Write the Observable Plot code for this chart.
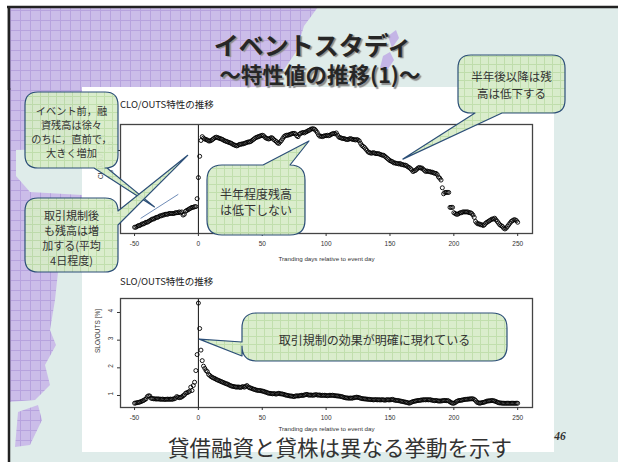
<!DOCTYPE html>
<html>
<head>
<meta charset="utf-8">
<script src="https://cdn.jsdelivr.net/npm/d3@7"></script>
<script src="https://cdn.jsdelivr.net/npm/@observablehq/plot@0.6"></script>
<style>
  body { margin: 0; background: #fff; }
  #slide { position: relative; width: 618px; height: 462px; overflow: hidden; font-family: "Noto Sans CJK JP", sans-serif; background: #fff; }
  .layer { position: absolute; left: 0; top: 0; }
  .chart { position: absolute; }
  .ctitle { position: absolute; font-size: 9.5px; color: #222; white-space: nowrap; line-height: 1; }
  .centered { position: absolute; white-space: nowrap; line-height: 1; transform: translate(-50%, -50%); }
  .title { font-weight: bold; color: #262626; text-shadow: 1.7px 1.7px 1px #8a8a8a; }
  .message { color: #333; }
  .page { font-family: "Liberation Serif", serif; font-weight: bold; font-style: italic; color: #333; }
</style>
</head>
<body>
<div id="slide"></div>
<script>
// ---- data: event study, trading days relative to the event day ----
const firstDay = -50;

// CLO/OUTS (%), one value per trading day from -50 to 250
const cloValues = [
  1.83,1.83,1.84,1.85,1.85,1.86,1.87,1.87,1.88,1.89,
  1.89,1.90,1.91,1.92,1.93,1.93,1.94,1.95,1.95,1.96,
  1.97,1.97,1.98,1.98,1.99,1.99,1.99,2.00,2.00,2.00,
  2.00,2.00,2.01,2.01,2.01,2.02,2.01,2.02,1.98,1.99,
  2.03,2.04,2.05,2.06,2.07,2.08,2.08,2.09,2.09,2.20,
  2.52,2.89,3.20,3.28,3.25,3.23,3.22,3.21,3.19,3.19,
  3.20,3.22,3.24,3.26,3.27,3.26,3.25,3.24,3.23,3.22,
  3.20,3.19,3.18,3.17,3.16,3.15,3.14,3.12,3.11,3.10,
  3.09,3.10,3.12,3.12,3.13,3.13,3.14,3.15,3.16,3.17,
  3.17,3.18,3.20,3.22,3.24,3.26,3.27,3.28,3.29,3.30,
  3.31,3.30,3.27,3.25,3.24,3.23,3.24,3.26,3.25,3.22,
  3.20,3.18,3.15,3.14,3.17,3.20,3.24,3.28,3.30,3.31,
  3.31,3.32,3.33,3.34,3.35,3.35,3.34,3.30,3.28,3.33,
  3.35,3.36,3.37,3.36,3.38,3.39,3.41,3.42,3.44,3.45,
  3.45,3.44,3.41,3.37,3.32,3.29,3.29,3.28,3.29,3.30,
  3.30,3.31,3.30,3.31,3.33,3.34,3.35,3.34,3.36,3.31,
  3.27,3.26,3.25,3.24,3.24,3.23,3.22,3.22,3.23,3.24,
  3.23,3.22,3.22,3.21,3.22,3.21,3.19,3.14,3.10,3.08,
  3.06,3.03,3.00,2.97,2.96,2.95,2.95,2.96,2.95,2.94,
  2.94,2.94,2.93,2.92,2.91,2.91,2.89,2.87,2.85,2.83,
  2.81,2.80,2.79,2.77,2.77,2.76,2.76,2.75,2.76,2.74,
  2.74,2.73,2.73,2.72,2.70,2.69,2.67,2.65,2.62,2.63,
  2.64,2.66,2.68,2.69,2.68,2.68,2.66,2.64,2.62,2.63,
  2.62,2.62,2.61,2.61,2.60,2.59,2.59,2.57,2.53,2.51,
  2.48,2.36,2.27,2.29,2.29,2.29,2.29,2.08,2.08,2.08,
  2.01,2.00,1.99,1.99,2.00,2.01,2.01,2.02,2.02,2.02,
  2.02,2.02,2.01,2.01,2.00,1.98,1.95,1.90,1.88,1.87,
  1.87,1.86,1.86,1.85,1.86,1.88,1.89,1.90,1.91,1.92,
  1.93,1.93,1.94,1.92,1.90,1.88,1.86,1.85,1.84,1.82,
  1.81,1.82,1.84,1.86,1.88,1.90,1.91,1.92,1.92,1.91,1.89
];

// SLO/OUTS (%), one value per trading day from -50 to 250
const sloValues = [
  0.72,0.73,0.74,0.75,0.76,0.78,0.80,0.82,0.85,0.88,
  0.96,0.99,0.98,0.90,0.89,0.88,0.88,0.87,0.88,0.87,
  0.87,0.86,0.87,0.86,0.86,0.86,0.87,0.86,0.87,0.86,
  0.87,0.88,0.90,0.96,0.94,0.92,0.93,0.95,0.99,1.02,
  1.08,1.10,1.12,1.15,1.30,1.18,1.36,1.48,1.90,2.48,
  4.34,3.42,2.64,2.26,2.06,1.98,1.90,1.86,1.76,1.72,
  1.68,1.65,1.63,1.61,1.58,1.56,1.54,1.52,1.50,1.48,
  1.46,1.44,1.42,1.41,1.38,1.36,1.34,1.33,1.32,1.31,
  1.30,1.31,1.30,1.29,1.31,1.32,1.30,1.33,1.36,1.31,
  1.28,1.27,1.25,1.23,1.22,1.20,1.19,1.18,1.18,1.17,
  1.16,1.15,1.13,1.12,1.10,1.08,1.08,1.07,1.06,1.07,
  1.06,1.05,1.07,1.08,1.06,1.06,1.05,1.04,1.02,1.01,
  1.00,0.99,0.98,0.98,0.97,0.96,0.98,0.99,0.98,0.99,
  1.00,1.01,1.00,1.02,1.03,1.04,1.02,1.01,1.02,1.01,
  1.01,1.02,1.03,1.02,1.01,1.02,1.00,1.01,1.00,1.01,
  1.00,0.99,1.00,1.01,1.00,1.01,1.00,0.99,0.99,0.98,
  0.98,0.97,0.96,0.95,0.93,0.92,0.91,0.91,0.90,0.91,
  0.90,0.91,0.92,0.93,0.94,0.93,0.92,0.90,0.89,0.88,
  0.88,0.87,0.87,0.86,0.86,0.85,0.85,0.84,0.85,0.85,
  0.84,0.85,0.84,0.84,0.85,0.84,0.83,0.84,0.85,0.84,
  0.84,0.85,0.86,0.84,0.83,0.82,0.82,0.81,0.80,0.79,
  0.78,0.77,0.76,0.75,0.74,0.72,0.74,0.76,0.78,0.79,
  0.80,0.81,0.82,0.82,0.83,0.84,0.84,0.85,0.84,0.85,
  0.84,0.85,0.84,0.83,0.82,0.81,0.82,0.81,0.80,0.80,
  0.80,0.81,0.82,0.82,0.81,0.82,0.80,0.77,0.74,0.72,
  0.72,0.74,0.78,0.80,0.82,0.82,0.83,0.84,0.85,0.86,
  0.86,0.87,0.87,0.88,0.88,0.88,0.86,0.82,0.76,0.74,
  0.72,0.73,0.74,0.75,0.76,0.78,0.80,0.80,0.81,0.81,
  0.82,0.81,0.80,0.78,0.76,0.74,0.73,0.73,0.72,0.72,
  0.72,0.72,0.72,0.72,0.72,0.72,0.72,0.72,0.72,0.72,0.72
];

// axis ticks
const dayTicks = [-50, 0, 50, 100, 150, 200, 250];
const cloTicks = [2.0, 2.5, 3.0];
const sloTicks = [1, 2, 3, 4];

// thin guide line drawn in the upper panel (day, CLO/OUTS)
const guideDays = [-45, -16];
const guideValues = [1.94, 2.26];

// callout anchor points in data space (day, value)
const tipPreEvent = [-34, 2.08];
const tipAfterRule = [-8, 2.90];
const tipHalfYear = [87, 3.18];
const tipLater = [160.5, 2.83];
const tipSlo = [1, 3.02];

// texts
const slideTitle = "イベントスタディ";
const slideSubtitle = "～特性値の推移(1)～";
const cloTitle = "CLO/OUTS特性の推移";
const sloTitle = "SLO/OUTS特性の推移";
const xLabel = "Tranding days relative to event day";
const bottomMessage = "貸借融資と貸株は異なる挙動を示す";
const pageNumber = "46";

// ---- build records ----
const cloData = cloValues.map((v, i) => ({day: firstDay + i, v}));
const sloData = sloValues.map((v, i) => ({day: firstDay + i, v}));
const guideData = guideDays.map((d, i) => ({day: d, v: guideValues[i]}));

const slide = document.getElementById("slide");
const W = 618, H = 462;
function addLayer(html) { slide.insertAdjacentHTML("beforeend", html); }

const purpleGrid = (id) => `
    <pattern id="${id}" width="10" height="10" patternUnits="userSpaceOnUse">
      <rect width="10" height="10" fill="#cbbde9"/>
      <rect width="10" height="1" fill="#b7a3de"/>
      <rect width="1" height="10" fill="#b7a3de"/>
    </pattern>`;

// ---- slide background: pale sea, gridded purple land, white content panel ----
addLayer(`<svg class="layer" width="${W}" height="${H}" xmlns="http://www.w3.org/2000/svg">
  <defs>${purpleGrid("pgrid")}</defs>
  <rect x="8" y="7" width="${W - 8}" height="${H - 7}" fill="#dfecea"/>
  <rect x="8" y="80" width="74" height="192" fill="url(#pgrid)"/>
  <polygon points="8,272 58,272 55,300 50,330 56,345 45,365 50,385 35,400 8,402" fill="url(#pgrid)"/>
  <polygon points="16,150 82,148 82,195 30,192 16,176" fill="#dfecea"/>
  <polygon points="18,412 38,405 42,420 30,445 15,447" fill="url(#pgrid)"/>
  <polygon points="388,36 396,30 399,38 392,48" fill="#c4b5e6"/>
  <polygon points="383,56 390,52 394,60 386,72 380,68" fill="#c4b5e6"/>
  <line x1="9" y1="7" x2="9" y2="${H}" stroke="#222" stroke-width="2.5"/>
  <rect x="82" y="87" width="472" height="365" fill="#ffffff"/>
</svg>`);

// ---- chart titles ----
function addDiv(cls, text, left, top, size) {
  const d = document.createElement("div");
  d.className = cls;
  d.textContent = text;
  d.style.left = left + "px";
  d.style.top = top + "px";
  if (size) d.style.fontSize = size + "px";
  slide.appendChild(d);
  return d;
}
addDiv("ctitle", cloTitle, 120, 100);
addDiv("ctitle", sloTitle, 120, 277);

// ---- plots ----
const xDomain = [-61, 261.6];
const baseStyle = {background: "transparent", fontFamily: "'Liberation Sans', Arial, sans-serif", fontSize: "6.5px", color: "#333", overflow: "visible"};

function panel({data, yType, yDomain, yTicks, yFormat, yLabel, labelDx, labelDy, extra, height, marginTop}) {
  return Plot.plot({
    width: 472,
    height,
    marginLeft: 38,
    marginRight: 22,
    marginTop,
    marginBottom: 32,
    style: baseStyle,
    x: {domain: xDomain},
    y: {type: yType, domain: yDomain},
    marks: [
      Plot.ruleX([0], {stroke: "#111", strokeWidth: 1}),
      ...extra,
      Plot.dot(data, {x: "day", y: "v", r: 2, stroke: "#000", strokeWidth: 0.9, fill: "none"}),
      Plot.frame({stroke: "#444", strokeWidth: 1.3}),
      Plot.axisX({ticks: dayTicks, tickSize: 3, tickPadding: 5, tickFormat: d => String(d), label: null, fontSize: 6.5}),
      Plot.axisY({ticks: yTicks, tickSize: 3, tickFormat: () => "", label: null}),
      Plot.text(yTicks, {y: d => d, text: d => yFormat(d), frameAnchor: "left", dx: -10, rotate: -90, fontSize: 6.5, fill: "#333"}),
      Plot.text([yLabel], {text: d => d, frameAnchor: "left", dx: labelDx, rotate: -90, fontSize: 6.5, fill: "#333"}),
      Plot.text([xLabel], {text: d => d, frameAnchor: "bottom", dy: labelDy, fontSize: 6.2, fill: "#333"})
    ]
  });
}

const cloPlot = panel({
  data: cloData, yType: "log", yDomain: [1.758, 3.547], yTicks: cloTicks,
  yFormat: d => d.toFixed(1), yLabel: "CLO/OUTS [%]", labelDx: -20, labelDy: 27,
  extra: [Plot.line(guideData, {x: "day", y: "v", stroke: "#4a6fa5", strokeWidth: 0.8})],
  height: 153, marginTop: 12
});
const sloPlot = panel({
  data: sloData, yType: "linear", yDomain: [0.566, 4.506], yTicks: sloTicks,
  yFormat: d => String(d), yLabel: "SLO/OUTS [%]", labelDx: -23, labelDy: 23,
  extra: [],
  height: 152, marginTop: 11
});

const cloPos = {left: 82, top: 112};
const sloPos = {left: 82, top: 287};
[[cloPlot, cloPos], [sloPlot, sloPos]].forEach(([p, pos]) => {
  p.classList.add("chart");
  p.style.left = pos.left + "px";
  p.style.top = pos.top + "px";
  slide.appendChild(p);
});

// convert a data point of a panel into slide pixels
function toSlide(plot, pos, [day, v]) {
  return [pos.left + plot.scale("x").apply(day), pos.top + plot.scale("y").apply(v)];
}

// ---- callouts ----
function calloutPath(b, t) {
  const {x, y, w, h, r} = b;
  const x2 = x + w, y2 = y + h;
  const tip = `${t.tip[0].toFixed(1)},${t.tip[1].toFixed(1)}`;
  let p = `M${x + r},${y}`;
  if (t.side === "top") p += `L${t.a},${y}L${tip}L${t.c},${y}`;
  p += `L${x2 - r},${y}Q${x2},${y} ${x2},${y + r}`;
  if (t.side === "right") p += `L${x2},${t.a}L${tip}L${x2},${t.c}`;
  p += `L${x2},${y2 - r}Q${x2},${y2} ${x2 - r},${y2}`;
  if (t.side === "bottom") p += `L${t.c},${y2}L${tip}L${t.a},${y2}`;
  p += `L${x + r},${y2}Q${x},${y2} ${x},${y2 - r}`;
  if (t.side === "left") p += `L${x},${t.c}L${tip}L${x},${t.a}`;
  p += `L${x},${y + r}Q${x},${y} ${x + r},${y}Z`;
  return p;
}

const callouts = [
  {box: {x: 25, y: 92, w: 93, h: 76, r: 13},
   tail: {side: "bottom", a: 94, c: 107, tip: toSlide(cloPlot, cloPos, tipPreEvent)},
   lines: ["イベント前，融", "資残高は徐々", "のちに，直前で，", "大きく増加"], size: 10.2, lh: 14.2, y0: 110},
  {box: {x: 25, y: 198, w: 93, h: 74, r: 13},
   tail: {side: "right", a: 211, c: 225, tip: toSlide(cloPlot, cloPos, tipAfterRule)},
   lines: ["取引規制後", "も残高は増", "加する(平均", "4日程度)"], size: 11, lh: 15, y0: 215},
  {box: {x: 207, y: 165, w: 98, h: 70, r: 15},
   tail: {side: "top", a: 263, c: 290, tip: toSlide(cloPlot, cloPos, tipHalfYear)},
   lines: ["半年程度残高", "は低下しない"], size: 12, lh: 16.5, y0: 193},
  {box: {x: 458, y: 55, w: 107, h: 58, r: 13},
   tail: {side: "bottom", a: 475, c: 502, tip: toSlide(cloPlot, cloPos, tipLater)},
   lines: ["半年後以降は残", "高は低下する"], size: 11.5, lh: 16.5, y0: 76},
  {box: {x: 242, y: 313, w: 265, h: 48, r: 15},
   tail: {side: "left", a: 342, c: 356, tip: toSlide(sloPlot, sloPos, tipSlo)},
   lines: ["取引規制の効果が明確に現れている"], size: 12, lh: 16, y0: 339}
];

// top layer: the land above the panel, the slide frame line, and the callouts
let ov = `<svg class="layer" width="${W}" height="${H}" xmlns="http://www.w3.org/2000/svg">
  <defs>
    ${purpleGrid("pgrid2")}
    <pattern id="ggrid" width="8" height="8" patternUnits="userSpaceOnUse">
      <rect width="8" height="8" fill="#d7ecc8"/>
      <rect width="8" height="1" fill="#bcdca6"/>
      <rect width="1" height="8" fill="#bcdca6"/>
    </pattern>
  </defs>
  <rect x="8" y="7" width="74" height="81" fill="url(#pgrid2)"/>
  <polygon points="80,7 318,7 304,26 296,52 272,87 80,87" fill="url(#pgrid2)"/>
  <line x1="7" y1="7" x2="${W}" y2="7" stroke="#222" stroke-width="2.5"/>
  <line x1="9" y1="7" x2="9" y2="90" stroke="#222" stroke-width="2.5"/>`;
for (const c of callouts) {
  ov += `<path d="${calloutPath(c.box, c.tail)}" fill="url(#ggrid)" fill-opacity="0.92" stroke="#2c4f78" stroke-width="1.2" stroke-linejoin="round"/>`;
  const cx = c.box.x + c.box.w / 2;
  c.lines.forEach((ln, i) => {
    ov += `<text x="${cx}" y="${c.y0 + i * c.lh}" text-anchor="middle" dominant-baseline="central" font-size="${c.size}" fill="#333" font-family="Noto Sans CJK JP">${ln}</text>`;
  });
}
ov += `</svg>`;
addLayer(ov);

// slide title, closing message and page number
function addCentered(cls, text, cx, cy, size) {
  return addDiv("centered " + cls, text, cx, cy, size);
}
addCentered("title", slideTitle, 313, 44, 25);
addCentered("title", slideSubtitle, 320, 74, 21.5);
addCentered("message", bottomMessage, 340, 447, 21.5);
addCentered("page", pageNumber, 560, 437, 11.5);
</script>
</body>
</html>
